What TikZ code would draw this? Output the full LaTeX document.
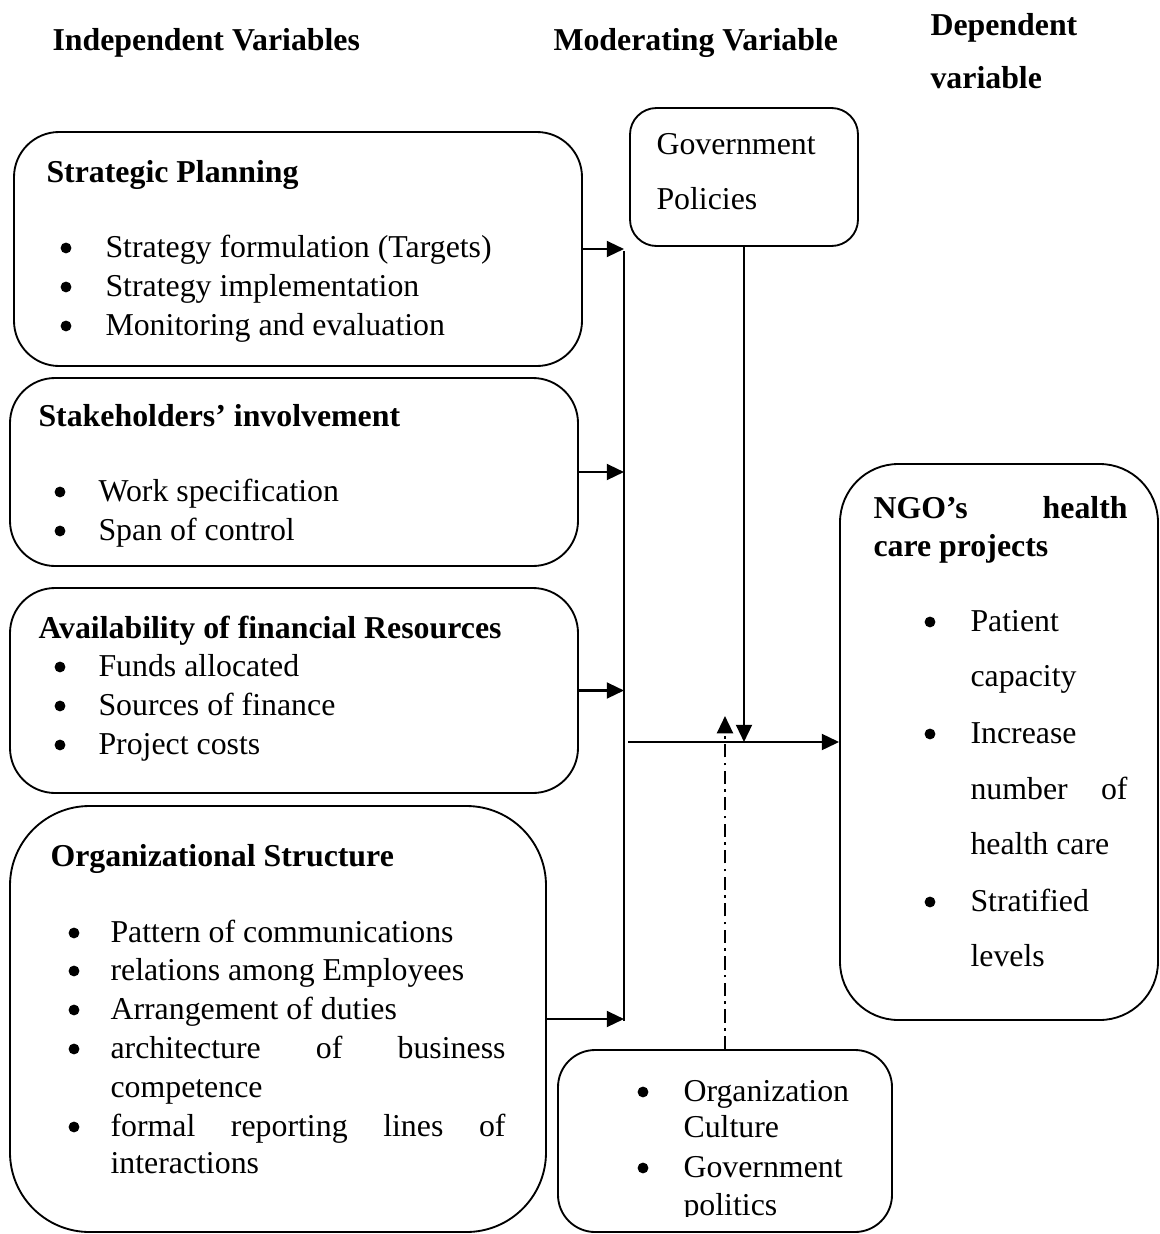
\documentclass[tikz,border=0pt]{standalone}
\usepackage{fontspec}
\setmainfont{Liberation Serif}
\usetikzlibrary{arrows.meta, positioning, fit}

\tikzset{
  box/.style={draw, line width=0.7pt, inner sep=0pt},
  txt/.style={anchor=base west, inner sep=0pt, font=\fontsize{12}{14}\selectfont},
  head/.style={txt, font=\fontsize{12}{14}\selectfont\bfseries},
  bul/.style={circle, fill, inner sep=0pt, minimum size=4.1pt, yshift=3.4pt},
  arr/.style={line width=0.85pt, -{Triangle[length=6.5pt,width=6pt]}},
}

\begin{document}
\begin{tikzpicture}[x=0.377pt, y=-0.377pt]
  \useasboundingbox (0,0) rectangle (1160,1234);

  % Column headings
  \node[head] (hind) at (52,50) {Independent Variables};
  \node[head] (hmod) at (553,50) {Moderating Variable};
  \node[head] (hdep) at (930,35) {Dependent};
  \node[head] (hdepb) at (930,88) {variable};

  % Boxes
  \node[box, rounded corners=17pt, fit={(14,132) (582,366)}] (sp) {};
  \node[box, rounded corners=17pt, fit={(10,378) (578,566)}] (sh) {};
  \node[box, rounded corners=17pt, fit={(10,588) (578,793)}] (fr) {};
  \node[box, rounded corners=30pt, fit={(10,806) (546,1232)}] (os) {};
  \node[box, rounded corners=10pt, fit={(630,108) (858,246)}] (gov) {};
  \node[box, rounded corners=22pt, fit={(840,464) (1158,1020)}] (ngo) {};
  \node[box, rounded corners=14pt, fit={(558,1050) (892,1232)}] (cul) {};

  % Strategic planning
  \node[head] (sptitle) at (46,182) {Strategic Planning};
  \foreach \y/\t [count=\i] in {257/{Strategy formulation (Targets)},
      296/{Strategy implementation}, 335/{Monitoring and evaluation}} {
    \node[bul] (spb\i) at (66,\y) {};
    \node[txt] (spt\i) at (105,\y) {\t};
  }

  % Stakeholders
  \node[head] (shtitle) at (38,426) {Stakeholders’ involvement};
  \foreach \y/\t [count=\i] in {501/{Work specification}, 540/{Span of control}} {
    \node[bul] (shb\i) at (60,\y) {};
    \node[txt] (sht\i) at (98,\y) {\t};
  }

  % Financial resources
  \node[head] (frtitle) at (38,638) {Availability of financial Resources};
  \foreach \y/\t [count=\i] in {676/{Funds allocated}, 715/{Sources of finance},
      754/{Project costs}} {
    \node[bul] (frb\i) at (60,\y) {};
    \node[txt] (frt\i) at (98,\y) {\t};
  }

  % Organizational structure
  \node[head] (ostitle) at (50,866) {Organizational Structure};
  \foreach \y/\t [count=\i] in {942/{Pattern of communications},
      980/{relations among Employees}, 1019/{Arrangement of duties},
      1058/{\makebox[148.9pt][s]{architecture of business}},
      1136/{\makebox[148.9pt][s]{formal reporting lines of}}} {
    \node[bul] (osb\i) at (74,\y) {};
    \node[txt] (ost\i) at (110,\y) {\t};
  }
  \node[txt] (ostc) at (110,1097) {competence};
  \node[txt] (osti) at (110,1173) {interactions};

  % Government policies
  \node[txt] (gova) at (656,154) {Government};
  \node[txt] (govb) at (656,209) {Policies};

  % NGO health care projects
  \node[head] (ngoa) at (873,518) {\makebox[95.8pt][s]{NGO’s health}};
  \node[head] (ngob) at (873,556) {care projects};
  \foreach \y [count=\i] in {631, 743, 911} {
    \node[bul] (ngob\i) at (930,\y) {};
  }
  \foreach \y/\t [count=\i] in {631/Patient, 686/capacity, 743/Increase,
      799/{\makebox[59.2pt][s]{number of}}, 854/{health care},
      911/Stratified, 966/levels} {
    \node[txt] (ngot\i) at (970,\y) {\t};
  }

  % Culture and politics
  \begin{scope}
    \clip (558,1050) rectangle (892,1216);
    \node[bul] (culb1) at (643,1101) {};
    \node[bul] (culb2) at (643,1177) {};
    \node[txt] (culta) at (683,1101) {Organization};
    \node[txt] (cultb) at (683,1137) {Culture};
    \node[txt] (cultc) at (683,1177) {Government};
    \node[txt] (cultd) at (683,1215) {politics};
  \end{scope}

  % Connectors
  \coordinate (ctop) at (624,251);
  \coordinate (cbot) at (624,1021);
  \draw[line width=0.85pt] (ctop) -- (cbot);
  \draw[arr] (sp.east) -- (sp.east -| ctop);
  \draw[arr] (sh.east) -- (sh.east -| ctop);
  \draw[arr] (fr.east) -- (fr.east -| ctop);
  \draw[arr] (os.east) -- (os.east -| ctop);

  \coordinate (join) at (628,742);
  \draw[arr] (join) -- (ngo.west);
  \draw[arr] (gov.south) -- (gov.south |- join);

  \coordinate (mtip) at (722,716);
  \draw[arr, dash pattern=on 5pt off 2pt on 1pt off 2pt] (cul.north) -- (cul.north |- mtip);
\end{tikzpicture}
\end{document}
